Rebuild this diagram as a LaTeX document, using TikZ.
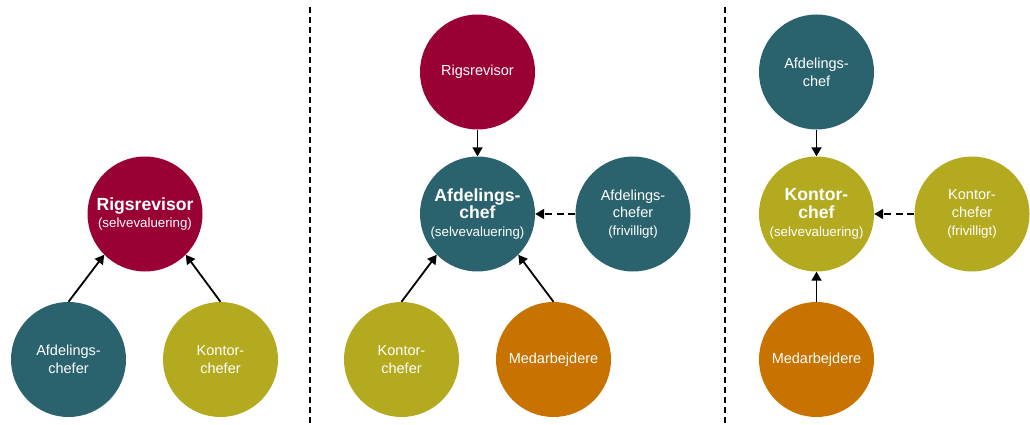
\documentclass[tikz,border=0pt]{standalone}
\usepackage{fontspec}
\setmainfont{Liberation Sans}
\usetikzlibrary{arrows.meta}
\definecolor{crim}{HTML}{990033}
\definecolor{tealc}{HTML}{2A636E}
\definecolor{olive}{HTML}{B4AA1F}
\definecolor{orng}{HTML}{C87300}
\newcommand{\bigf}{\fontsize{17.6}{19.2}\selectfont\bfseries}
\newcommand{\regf}{\fontsize{14.5}{17.7}\selectfont\mdseries}
\newcommand{\smf}{\fontsize{13.3}{19.3}\selectfont\mdseries}
\tikzset{
  circ/.style={circle, minimum size=115pt, inner sep=0pt, text=white, align=center, font=\regf},
  arr/.style={-{Triangle[length=9pt,width=10pt]}, line width=1.8pt, black},
  darr/.style={arr, dash pattern=on 7pt off 4.5pt},
  divider/.style={line width=1.6pt, dash pattern=on 6pt off 4pt}
}
\begin{document}
\begin{tikzpicture}[x=1pt,y=-1pt]
\useasboundingbox (0,0) rectangle (1030,425);
% dividers
\coordinate (d1t) at (310,7);
\coordinate (d1b) at (310,425);
\coordinate (d2t) at (725,7);
\coordinate (d2b) at (725,425);
\draw[divider] (d1t) -- (d1b);
\draw[divider] (d2t) -- (d2b);
% panel 1
\node[circ, fill=crim] (p1r) at (145,214) {\bigf Rigsrevisor\\\smf (selvevaluering)};
\node[circ, fill=tealc] (p1a) at (68.5,359.5) {\regf Afdelings-\\\regf chefer};
\node[circ, fill=olive] (p1k) at (220.5,359.5) {\regf Kontor-\\\regf chefer};
\draw[arr] (p1a.north) -- (p1r.225);
\draw[arr] (p1k.north) -- (p1r.315);
% panel 2
\node[circ, fill=crim] (p2r) at (477.5,72) {\regf Rigsrevisor};
\node[circ, fill=tealc] (p2a) at (477.5,214) {\bigf Afdelings-\\\bigf chef\\\smf (selvevaluering)};
\node[circ, fill=tealc] (p2f) at (633,214) {\regf Afdelings-\\\regf chefer\\\smf (frivilligt)};
\node[circ, fill=olive] (p2k) at (401.5,359.5) {\regf Kontor-\\\regf chefer};
\node[circ, fill=orng] (p2m) at (553.5,359.5) {\regf Medarbejdere};
\draw[arr] (p2r.south) -- (p2a.north);
\draw[darr] (p2f.west) -- (p2a.east);
\draw[arr] (p2k.north) -- (p2a.225);
\draw[arr] (p2m.north) -- (p2a.315);
% panel 3
\node[circ, fill=tealc] (p3a) at (816.5,72) {\regf Afdelings-\\\regf chef};
\node[circ, fill=olive] (p3k) at (816.5,214) {\bigf Kontor-\\\bigf chef\\\smf (selvevaluering)};
\node[circ, fill=olive] (p3f) at (972,214) {\regf Kontor-\\\regf chefer\\\smf (frivilligt)};
\node[circ, fill=orng] (p3m) at (816.5,359.5) {\regf Medarbejdere};
\draw[arr] (p3a.south) -- (p3k.north);
\draw[darr] (p3f.west) -- (p3k.east);
\draw[arr] (p3m.north) -- (p3k.south);
\end{tikzpicture}
\end{document}
